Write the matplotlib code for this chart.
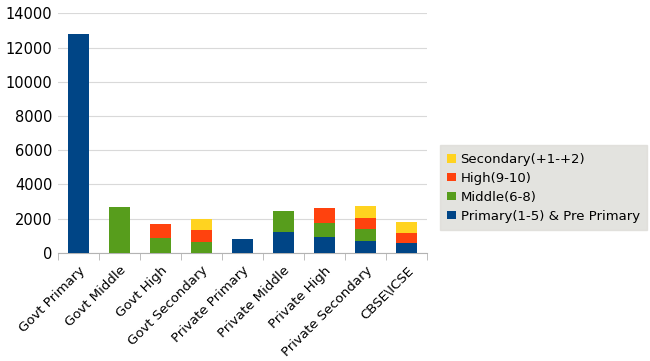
import matplotlib.pyplot as plt
import numpy as np

categories = ["Govt Primary", "Govt Middle", "Govt High", "Govt Secondary",
              "Private Primary", "Private Middle", "Private High",
              "Private Secondary", "CBSE\\ICSE"]
primary = [12800, 0, 0, 0, 800, 1190, 900, 680, 590]
middle = [0, 2650, 840, 640, 0, 1230, 860, 680, 0]
high = [0, 0, 860, 660, 0, 0, 880, 690, 580]
secondary = [0, 0, 0, 670, 0, 0, 0, 700, 600]

series = [
    ("Primary(1-5) & Pre Primary", primary, "#004586"),
    ("Middle(6-8)", middle, "#579d1c"),
    ("High(9-10)", high, "#ff420e"),
    ("Secondary(+1-+2)", secondary, "#ffd320"),
]

plt.rcParams["font.family"] = "DejaVu Sans"
fig = plt.figure(figsize=(6.5, 3.61), dpi=100)
ax = fig.add_axes([0.089, 0.30, 0.568, 0.663])

x = np.arange(len(categories))
bottom = np.zeros(len(categories))
handles = []
for label, vals, color in series:
    vals = np.array(vals, dtype=float)
    b = ax.bar(x, vals, width=0.5, bottom=bottom, color=color, label=label, zorder=3)
    handles.append(b)
    bottom += vals

ax.set_xlim(-0.5, len(categories) - 0.5)
ax.set_ylim(0, 14000)
ax.set_yticks(np.arange(0, 14001, 2000))
ax.yaxis.grid(True, color="#d9d9d9", linewidth=0.8, zorder=0)
ax.set_xticks(x)
ax.set_xticklabels(categories, rotation=45, ha="right", rotation_mode="anchor")
ax.set_xticks(np.arange(-0.5, len(categories), 1), minor=True)
ax.tick_params(axis="x", which="major", length=0, labelsize=9.5, pad=8)
ax.tick_params(axis="x", which="minor", length=5, color="#b3b3b3")
ax.tick_params(axis="y", length=0, labelsize=10.5, pad=4)
for s in ["top", "right", "left"]:
    ax.spines[s].set_visible(False)
ax.spines["bottom"].set_color("#b3b3b3")

leg = fig.legend(handles[::-1], [h.get_label() for h in handles[::-1]],
                 loc="upper left", bbox_to_anchor=(0.677, 0.597),
                 frameon=True, fontsize=9.5, handlelength=0.65, handleheight=0.65,
                 handletextpad=0.35, labelspacing=0.45, borderpad=0.55,
                 fancybox=False, borderaxespad=0)
leg.get_frame().set_facecolor("#dddcd8")
leg.get_frame().set_edgecolor("#dddcd8")

fig.savefig("out.png", dpi=100)
